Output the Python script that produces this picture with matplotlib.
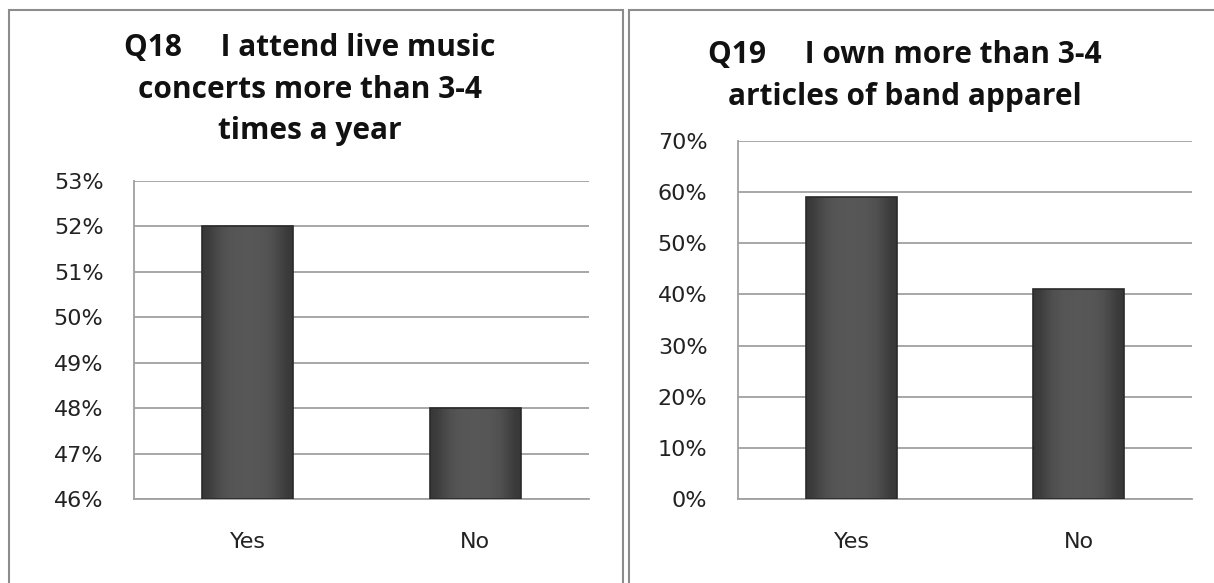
import numpy as np
import matplotlib.pyplot as plt
from matplotlib.patches import Rectangle
from matplotlib.ticker import FuncFormatter

# survey answers
categories = ["Yes", "No"]
q18_values = [52, 48]
q19_values = [59, 41]
q18_title = "Q18     I attend live music\nconcerts more than 3-4\ntimes a year"
q19_title = "Q19     I own more than 3-4\narticles of band apparel"

fig = plt.figure(figsize=(12.14, 5.83), dpi=100)
W, H = 1214, 583

def px(x, y):
    return x / W, 1 - y / H

# panel frames
grey = "#8c8c8c"
fig.add_artist(Rectangle(px(9, 600), 614 / W, 590 / H, transform=fig.transFigure,
                         fill=False, edgecolor=grey, lw=1.5))
fig.add_artist(Rectangle(px(629, 600), 600 / W, 590 / H, transform=fig.transFigure,
                         fill=False, edgecolor=grey, lw=1.5))


def shade_bars(ax, bars, ymin):
    # rough imitation of the bevelled excel bars
    grad = np.array([[0.22, 0.29, 0.33, 0.34, 0.34, 0.34, 0.33, 0.29, 0.22]])
    for b in bars:
        x0, w = b.get_x(), b.get_width()
        top = b.get_y() + b.get_height()
        b.set_y(ymin)
        b.set_height(top - ymin)
        im = ax.imshow(grad, cmap="gray", vmin=0, vmax=1, aspect="auto",
                       extent=(x0, x0 + w, ymin, top), interpolation="bicubic",
                       zorder=3)
        im.set_clip_path(b)
        b.set_facecolor("none")
        b.set_edgecolor("#2a2a2a")
        b.set_linewidth(1.2)
        b.set_zorder(4)


def draw(ax, vals, ylim, step):
    x = np.arange(len(categories))
    bars = ax.bar(x, vals, width=0.4, color="#5a5a5a", zorder=3)
    shade_bars(ax, bars, ylim[0])
    ax.set_xlim(-0.5, 1.5)
    ax.set_ylim(*ylim)
    ax.set_yticks(np.arange(ylim[0], ylim[1] + 0.1, step))
    ax.yaxis.set_major_formatter(FuncFormatter(lambda v, p: f"{v:.0f}%"))
    ax.set_xticks(x)
    ax.set_xticklabels(categories)
    ax.grid(axis="y", color="#a0a0a0", lw=1.3, zorder=0)
    ax.tick_params(length=0, labelsize=16, colors="#222222")
    ax.tick_params(axis="y", pad=22)
    ax.tick_params(axis="x", pad=24)
    for s in ["top", "right"]:
        ax.spines[s].set_visible(False)
    for s in ["left", "bottom"]:
        ax.spines[s].set_color("#a0a0a0")
        ax.spines[s].set_linewidth(1.3)


ax1 = fig.add_axes([134 / W, 1 - 499 / H, 455 / W, 318 / H])
draw(ax1, q18_values, (46, 53), 1)
ax2 = fig.add_axes([738 / W, 1 - 499 / H, 454 / W, 358 / H])
draw(ax2, q19_values, (0, 70), 10)

tkw = dict(ha="center", va="top", fontsize=21.5, fontweight="bold",
           family="Open Sans", linespacing=1.5, color="#111111")
fig.text(*px(310, 33), q18_title, **tkw)
fig.text(*px(905, 40), q19_title, **tkw)

fig.savefig("out.png", dpi=100)
